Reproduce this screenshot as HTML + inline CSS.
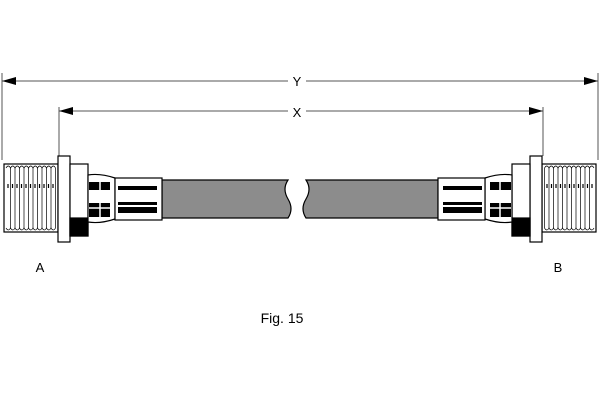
<!DOCTYPE html>
<html><head><style>body{margin:0;background:#fff}svg{display:block}</style></head><body>
<svg width="600" height="400" viewBox="0 0 600 400" font-family="Liberation Sans, sans-serif">
<defs>
<g id="fit" stroke="#000" stroke-width="1.2">
  <rect x="4" y="164" width="54" height="68" fill="#fff"/>
  <g stroke-width="0.7" fill="none">
    <path d="M6 168 q2.25 -4 4.5 0 q2.25 -4 4.5 0 q2.25 -4 4.5 0 q2.25 -4 4.5 0 q2.25 -4 4.5 0 q2.25 -4 4.5 0 q2.25 -4 4.5 0 q2.25 -4 4.5 0 q2.25 -4 4.5 0 q2.25 -4 4.5 0 q2.25 -4 4.5 0"/>
    <path d="M6 228 q2.25 4 4.5 0 q2.25 4 4.5 0 q2.25 4 4.5 0 q2.25 4 4.5 0 q2.25 4 4.5 0 q2.25 4 4.5 0 q2.25 4 4.5 0 q2.25 4 4.5 0 q2.25 4 4.5 0 q2.25 4 4.5 0 q2.25 4 4.5 0"/>
    <path d="M10.5 168V228M15 168V228M19.5 168V228M24 168V228M28.5 168V228M33 168V228M37.5 168V228M42 168V228M46.5 168V228M51 168V228M55.5 168V228"/>
  </g>
  <path d="M8 184V188M12.5 184V188M17 184V188M21.5 184V188M26 184V188M30.5 184V188M35 184V188M39.5 184V188M44 184V188M48.5 184V188M53 184V188" stroke-width="1.2"/>
  <rect x="58" y="156" width="12" height="86" fill="#fff"/>
  <rect x="70" y="164" width="18" height="72" fill="#fff"/>
  <rect x="70" y="218" width="18" height="18" fill="#000"/>
  <path d="M88 175 Q100 173 115 178 V219 Q100 224 88 222 Z" fill="#fff"/>
  <rect x="89" y="182" width="21" height="8" fill="#000" stroke="none"/>
  <rect x="89" y="203" width="21" height="14" fill="#000" stroke="none"/>
  <path d="M100 182V217M89 208H110" stroke="#fff" stroke-width="1.5"/>
  <rect x="115" y="178" width="47" height="42" fill="#fff"/>
  <rect x="118" y="186" width="39" height="4" fill="#000" stroke="none"/>
  <rect x="118" y="202" width="39" height="3" fill="#000" stroke="none"/>
  <rect x="118" y="207" width="39" height="6" fill="#000" stroke="none"/>
</g>
</defs>
<g stroke="#555" stroke-width="1">
  <path d="M2 73V160M598 73V160M59 107V156M543 107V156"/>
  <path d="M2 81H288M306 81H598"/>
  <path d="M59 111H288M306 111H543"/>
</g>
<path d="M2 81l14-4v8z M598 81l-14-4v8z M59 111l14-4v8z M543 111l-14-4v8z" fill="#000"/>
<text x="297" y="86" font-size="13" text-anchor="middle">Y</text>
<text x="297" y="117" font-size="13" text-anchor="middle">X</text>
<path d="M162 180H288 q-6 9 0 19 q6 10 0 19 H162Z" fill="#8c8c8c" stroke="#000" stroke-width="1.2"/>
<path d="M306 180H438V218H306 q-6 -9 0 -19 q6 -10 0 -19Z" fill="#8c8c8c" stroke="#000" stroke-width="1.2"/>
<use href="#fit"/>
<use href="#fit" transform="translate(600,0) scale(-1,1)"/>
<text x="40" y="272" font-size="13" text-anchor="middle">A</text>
<text x="558" y="272" font-size="13" text-anchor="middle">B</text>
<text x="282" y="323" font-size="14" text-anchor="middle">Fig. 15</text>
</svg>
</body></html>
